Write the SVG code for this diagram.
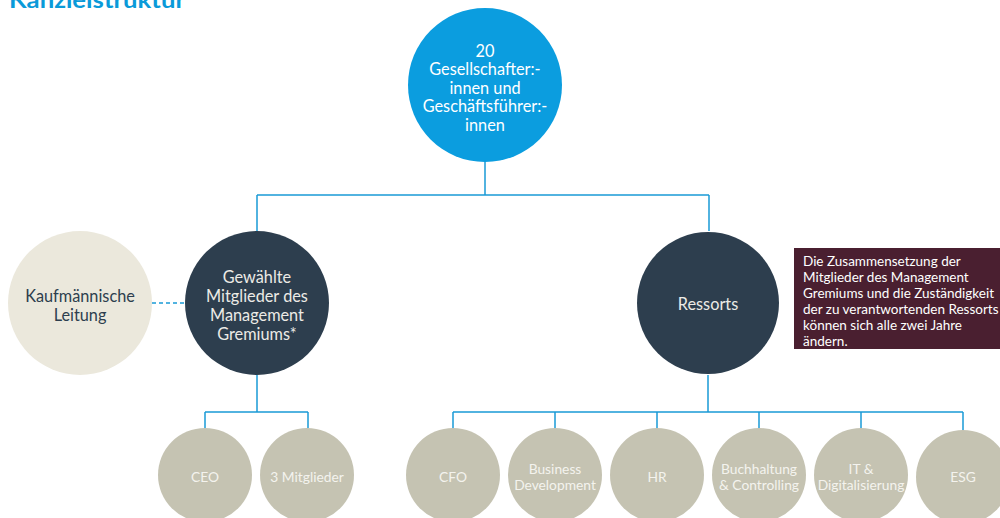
<svg xmlns="http://www.w3.org/2000/svg" width="1000" height="518" viewBox="0 0 1000 518">
  <style>
    .t { font-family: Lato, "Open Sans", "Liberation Sans", sans-serif; text-anchor: middle; dominant-baseline: central; }
    .big { font-size: 16.3px; }
    .small { font-size: 13.8px; fill: #f4f3ee; }
    .light { fill: #ffffff; }
    .dark { fill: #2d3e4e; }
    .leaf { fill: #c5c3b2; }
    .conn { fill: none; stroke: #1a9ad6; stroke-width: 1.5; }
    .note { font-family: Lato, "Open Sans", "Liberation Sans", sans-serif; font-size: 13.5px; fill: #ffffff; }
  </style>
  <rect width="1000" height="518" fill="#ffffff"/>

  <text x="9" y="8" font-family="Lato, 'Liberation Sans', sans-serif" font-weight="bold" font-size="23" fill="#0a9ad9" textLength="176" lengthAdjust="spacingAndGlyphs">Kanzleistruktur</text>

  <g id="connectors">
    <path class="conn" d="M485 162 V195 M257 195 H709 M257 195 V231 M709 195 V231"/>
    <path class="conn" d="M257 375 V412 M205 412 H308 M205 412 V428 M308 412 V428"/>
    <path class="conn" d="M708 375 V412 M453 412 H963 M453 412 V428 M555 412 V428 M657 412 V428 M759 412 V428 M861 412 V428 M963 412 V430"/>
    <path d="M152 303 H185" fill="none" stroke="#1a9ad6" stroke-width="1.5" stroke-dasharray="4 3"/>
  </g>

  <g id="gesellschafter">
    <circle cx="485" cy="85" r="77" fill="#0b9ddf"/>
    <text class="t big light" x="485" y="50">20</text>
    <text class="t big light" x="485" y="68.5">Gesellschafter:-</text>
    <text class="t big light" x="485" y="87">innen und</text>
    <text class="t big light" x="485" y="105.5">Geschäftsführer:-</text>
    <text class="t big light" x="485" y="124">innen</text>
  </g>

  <g id="kaufmaennische-leitung">
    <circle cx="80" cy="303" r="72" fill="#ebe8dc"/>
    <text class="t big" x="80" y="295" fill="#2d3e4e">Kaufmännische</text>
    <text class="t big" x="80" y="314" fill="#2d3e4e">Leitung</text>
  </g>

  <g id="management-gremium">
    <circle class="dark" cx="257" cy="303" r="72"/>
    <text class="t big" x="257" y="276" fill="#ecebe6">Gewählte</text>
    <text class="t big" x="257" y="295" fill="#ecebe6">Mitglieder des</text>
    <text class="t big" x="257" y="314" fill="#ecebe6">Management</text>
    <text class="t big" x="257" y="333" fill="#ecebe6">Gremiums*</text>
  </g>

  <g id="ressorts">
    <circle class="dark" cx="708" cy="303" r="71"/>
    <text class="t big" x="708" y="303" fill="#ecebe6">Ressorts</text>
  </g>

  <g id="hinweis">
    <rect x="794" y="248" width="210" height="101" fill="#4a1f30"/>
    <text class="note" x="803" y="266">Die Zusammensetzung der</text>
    <text class="note" x="803" y="282">Mitglieder des Management</text>
    <text class="note" x="803" y="298">Gremiums und die Zuständigkeit</text>
    <text class="note" x="803" y="314">der zu verantwortenden Ressorts</text>
    <text class="note" x="803" y="330">können sich alle zwei Jahre</text>
    <text class="note" x="803" y="346">ändern.</text>
  </g>

  <g id="ceo">
    <circle class="leaf" cx="205" cy="475" r="47"/>
    <text class="t small" x="205" y="476">CEO</text>
  </g>
  <g id="mitglieder">
    <circle class="leaf" cx="307" cy="475" r="47"/>
    <text class="t small" x="307" y="476">3 Mitglieder</text>
  </g>
  <g id="cfo">
    <circle class="leaf" cx="453" cy="475" r="47"/>
    <text class="t small" x="453" y="476">CFO</text>
  </g>
  <g id="business-development">
    <circle class="leaf" cx="555" cy="475" r="47"/>
    <text class="t small" x="555" y="468">Business</text>
    <text class="t small" x="555" y="484">Development</text>
  </g>
  <g id="hr">
    <circle class="leaf" cx="657" cy="475" r="47"/>
    <text class="t small" x="657" y="476">HR</text>
  </g>
  <g id="buchhaltung">
    <circle class="leaf" cx="759" cy="475" r="47"/>
    <text class="t small" x="759" y="468">Buchhaltung</text>
    <text class="t small" x="759" y="484">&amp; Controlling</text>
  </g>
  <g id="it">
    <circle class="leaf" cx="861" cy="475" r="47"/>
    <text class="t small" x="861" y="468">IT &amp;</text>
    <text class="t small" x="861" y="484">Digitalisierung</text>
  </g>
  <g id="esg">
    <circle class="leaf" cx="963" cy="477" r="47"/>
    <text class="t small" x="963" y="476">ESG</text>
  </g>
</svg>
